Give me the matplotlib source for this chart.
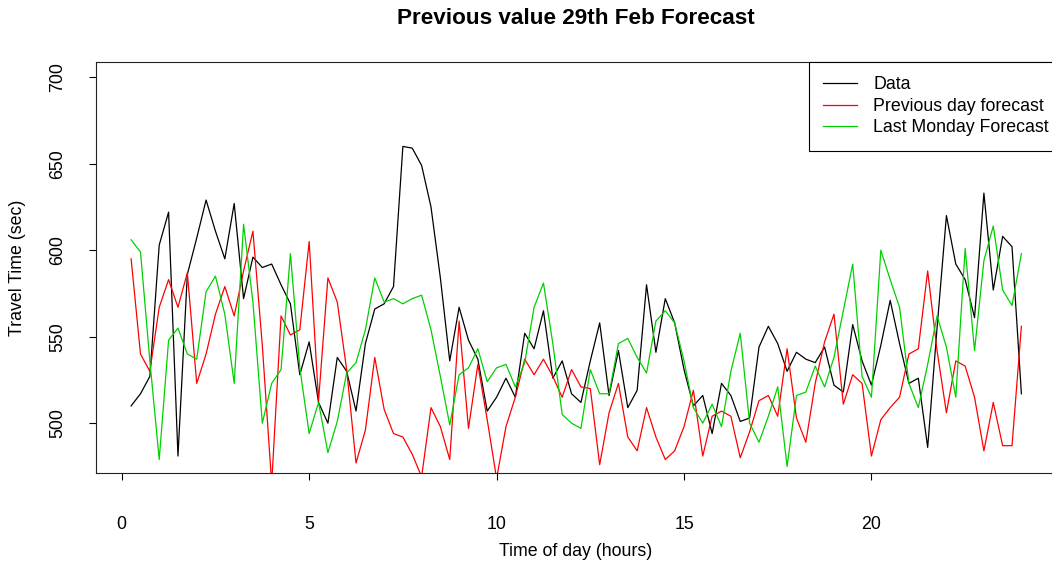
import numpy as np
import matplotlib
matplotlib.use('Agg')
import matplotlib.pyplot as plt

plt.rcParams['font.family'] = ['Liberation Sans', 'DejaVu Sans']

# quarter-hour slots over the day
hours = np.arange(1, 97) / 4.0

data = [510, 517, 527, 603, 622, 481, 586, 607, 629, 611, 595, 627, 572, 596, 590, 592,
        580, 569, 528, 547, 512, 500, 538, 530, 507, 546, 566, 569, 579, 660, 659, 649,
        625, 584, 536, 567, 548, 537, 507, 515, 526, 515, 552, 543, 565, 526, 536, 517,
        512, 536, 558, 516, 542, 509, 519, 580, 541, 572, 558, 531, 510, 516, 494, 523,
        516, 501, 503, 544, 556, 546, 530, 541, 537, 535, 544, 522, 518, 557, 536, 522,
        545, 571, 546, 523, 526, 486, 555, 620, 592, 583, 561, 633, 577, 608, 602, 517]

prev_day = [595, 540, 530, 567, 583, 567, 587, 523, 540, 563, 579, 562, 588, 611, 545, 465,
            562, 551, 554, 605, 513, 584, 570, 531, 477, 496, 538, 508, 494, 492, 482, 469,
            509, 498, 479, 559, 497, 534, 502, 468, 498, 515, 537, 528, 537, 527, 515, 531,
            521, 520, 476, 506, 523, 492, 484, 509, 492, 479, 484, 498, 519, 481, 504, 507,
            504, 480, 495, 513, 516, 504, 543, 503, 489, 523, 547, 563, 511, 528, 523, 481,
            502, 509, 515, 540, 543, 588, 542, 506, 536, 533, 515, 484, 512, 487, 487, 556]

last_monday = [606, 599, 536, 479, 548, 555, 540, 537, 576, 585, 563, 523, 615, 570, 500, 523,
               531, 598, 532, 494, 512, 483, 501, 529, 535, 554, 584, 570, 572, 569, 572, 574,
               554, 527, 499, 528, 532, 543, 524, 532, 534, 521, 535, 567, 581, 546, 505, 500,
               497, 531, 517, 517, 546, 549, 538, 529, 559, 565, 558, 536, 509, 500, 511, 498,
               530, 552, 500, 489, 504, 521, 475, 516, 518, 533, 521, 538, 565, 592, 527, 515,
               600, 583, 567, 523, 509, 534, 562, 544, 515, 601, 542, 594, 614, 577, 568, 598]

labels = ['Data', 'Previous day forecast', 'Last Monday Forecast']
colors = ['black', '#ff0000', '#00d000']

W, H = 1052, 567
fig = plt.figure(figsize=(W / 100, H / 100), dpi=100)
ax = fig.add_axes([95.5 / W, 1 - 473 / H, (1057 - 95.5) / W, 411 / H])

for y, lab, c in zip([data, prev_day, last_monday], labels, colors):
    ax.plot(hours, y, color=c, lw=0.9, label=lab)

# R-style limits: data range padded by 4%
ax.set_xlim(0.25 - 0.95, 24 + 0.95)
ax.set_ylim(480 - 8.8, 700 + 8.8)
ax.set_xticks([0, 5, 10, 15, 20])
ax.set_yticks([500, 550, 600, 650, 700])
ax.tick_params(axis='x', direction='out', length=5, width=0.8, labelsize=12.8, pad=26)
ax.tick_params(axis='y', direction='out', length=5, width=0.8, labelsize=12.8, pad=16)
for t in ax.get_yticklabels():
    t.set_rotation(90)
    t.set_va('center')
for s in ax.spines.values():
    s.set_linewidth(0.8)
    s.set_color('#222222')

leg = ax.legend(loc='upper right', bbox_to_anchor=(1.0065, 1), borderaxespad=0,
                fancybox=False, framealpha=1, edgecolor='black', fontsize=12.8,
                handlelength=1.9, handletextpad=0.95, labelspacing=0.26, borderpad=0.8)
leg.get_frame().set_linewidth(0.8)
leg.set_clip_on(False)

fig.text(576 / W, 1 - 18 / H, 'Previous value 29th Feb Forecast', ha='center', va='center',
         fontsize=16.2, fontweight='bold')
fig.text(576 / W, 1 - 551 / H, 'Time of day (hours)', ha='center', va='center', fontsize=12.8)
fig.text(18 / W, 1 - 267.5 / H, 'Travel Time (sec)', ha='center', va='center',
         rotation=90, fontsize=12.8)

fig.savefig('out.png', dpi=100)
